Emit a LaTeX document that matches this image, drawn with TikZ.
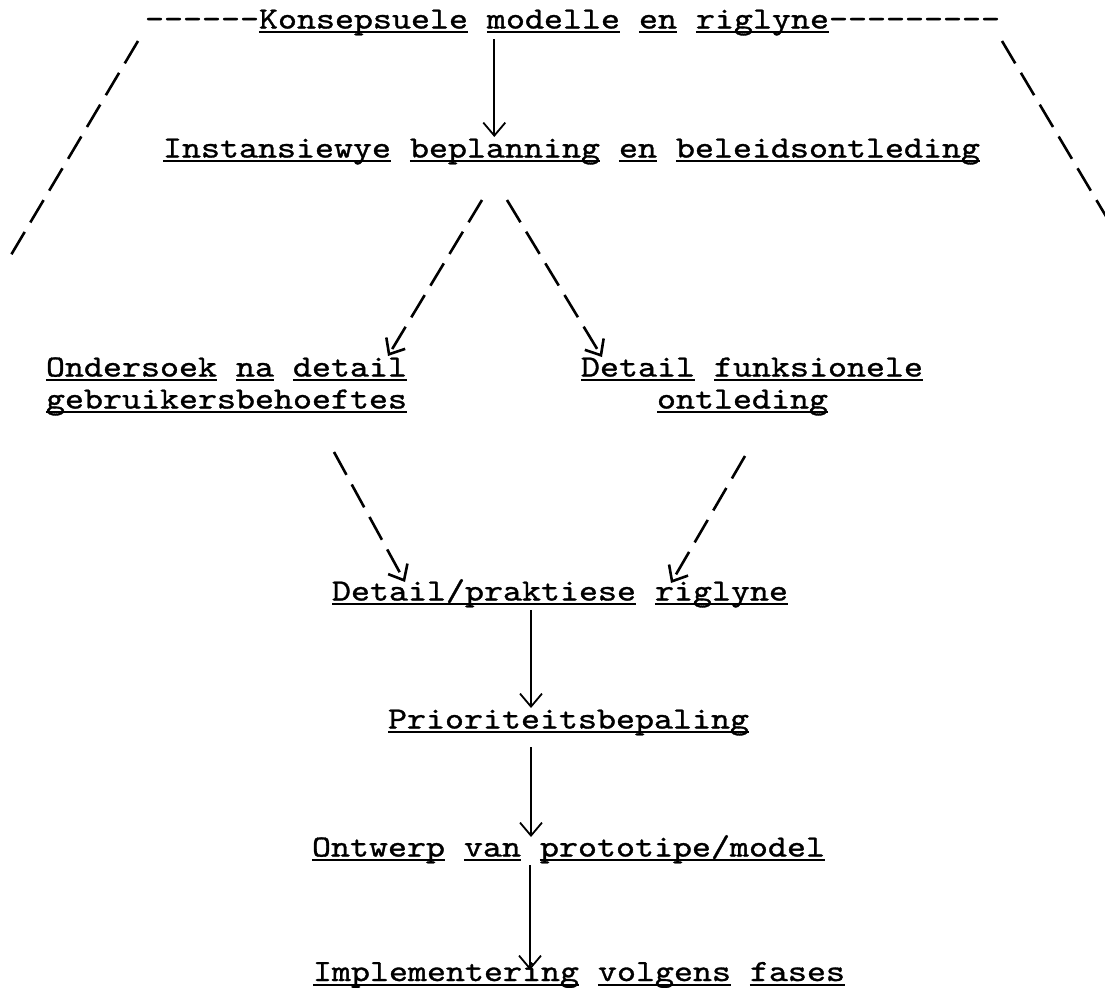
\documentclass[tikz,border=0pt]{standalone}
\usepackage{graphicx}
\usetikzlibrary{arrows.meta,calc}

% slightly heavier typewriter face, as a typed sheet prints
\font\twf="[lmmono10-regular]:embolden=1.0" at 15.4pt

% each word gets its own underline at a fixed depth below the baseline
\newsavebox\wordbox
\newcommand\uw[1]{\sbox\wordbox{#1}\rlap{\rule[-2.25pt]{\wd\wordbox}{1pt}}\usebox\wordbox}
% a single hyphen that never joins its neighbours into a dash
\newcommand\hy{-\kern0pt}
% typewriter line, widened to the pitch of the typed sheet
\newcommand\tline[1]{\scalebox{1.175}[1]{#1}}

\tikzset{
  lbl/.style={anchor=base west, inner sep=0pt, outer sep=0pt, font=\twf},
  flow/.style={line width=0.9pt, -{Straight Barb[length=6.5pt,width=11pt]}},
  dflow/.style={flow, line width=1.3pt, dash pattern=on 13pt off 5.5pt},
  frame/.style={line width=1.3pt, dash pattern=on 13pt off 5.5pt},
}

\begin{document}
\begin{tikzpicture}[x=0.5pt, y=-0.5pt]
  \clip (0,0) rectangle (1105,987);

  % text lines
  \node[lbl] (top) at (145,28.5)
    {\tline{\hy\hy\hy\hy\hy\hy\uw{Konsepsuele} \uw{modelle} \uw{en} \uw{riglyne}\hy\hy\hy\hy\hy\hy\hy\hy\hy}};
  \node[lbl] (plan) at (163,157.5)
    {\tline{\uw{Instansiewye} \uw{beplanning} \uw{en} \uw{beleidsontleding}}};
  \node[lbl] (need) at (46,376.5)
    {\tline{\vtop{\baselineskip=16pt\hbox{\uw{Ondersoek} \uw{na} \uw{detail}}\hbox{\uw{gebruikersbehoeftes}}}}};
  \node[lbl] (func) at (581,376.5)
    {\tline{\vtop{\baselineskip=16pt\hbox{\uw{Detail} \uw{funksionele}}\hbox{\hskip2.1em\uw{ontleding}}}}};
  \node[lbl] (prac) at (332,600.5)
    {\tline{\uw{Detail/praktiese} \uw{riglyne}}};
  \node[lbl] (prio) at (388,728.5)
    {\tline{\uw{Prioriteitsbepaling}}};
  \node[lbl] (proto) at (312,856.5)
    {\tline{\uw{Ontwerp} \uw{van} \uw{prototipe/model}}};
  \node[lbl] (impl) at (313,981)
    {\tline{\uw{Implementering} \uw{volgens} \uw{fases}}};

  % sloping sides under the top line
  \coordinate (lt) at (138,41);
  \coordinate (lb) at (11,255);
  \coordinate (rt) at (1002,41);
  \coordinate (rb) at (1129,255);
  \draw[frame] (lt) -- (lb);
  \draw[frame] (rt) -- (rb);

  % connectors
  \draw[flow]  ($(top.base west)+(349.3,10.5)$) -- ($(plan.base west)+(331.3,-20.5)$);
  \draw[dflow] ($(plan.base west)+(319,42.5)$)  -- ($(need.base west)+(342,-20.5)$);
  \draw[dflow] ($(plan.base west)+(344,42.5)$)  -- ($(func.base west)+(21,-19.5)$);
  \draw[dflow] ($(need.base west)+(288,75.5)$)  -- ($(prac.base west)+(73,-18.5)$);
  \draw[dflow] ($(func.base west)+(164,79.5)$)  -- ($(prac.base west)+(339,-17.5)$);
  \draw[flow]  ($(prac.base west)+(199,9.5)$)   -- ($(prio.base west)+(143,-20.5)$);
  \draw[flow]  ($(prio.base west)+(143,18.5)$)  -- ($(proto.base west)+(219,-19.5)$);
  \draw[flow]  ($(proto.base west)+(218,8.5)$)  -- ($(impl.base west)+(217,-11)$);
\end{tikzpicture}
\end{document}
